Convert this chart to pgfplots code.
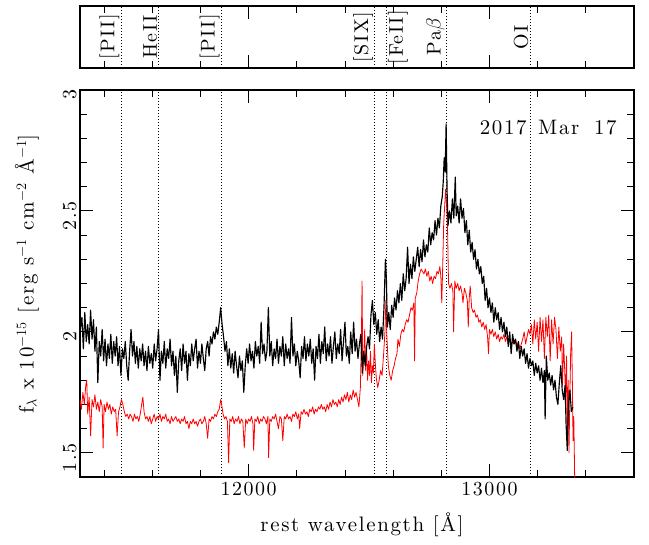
\documentclass[border=0pt]{standalone}
\usepackage{fontspec}
\setmainfont{lmroman10-regular}[Extension=.otf, LetterSpace=8]
\usepackage{pgfplots}
\pgfplotsset{compat=1.18}
\newcommand{\bigf}{\fontsize{20}{24}\selectfont}
\newcommand{\labf}{\fontsize{21}{25}\selectfont}
\begin{document}
\begin{tikzpicture}
\path[use as bounding box] (-80bp,-68bp) rectangle (569bp,477bp);
\pgfplotsset{
  common/.style={
    scale only axis, width=554bp,
    xmin=11300, xmax=13600,
    axis line style={line width=1.2bp},
    tick style={line width=0.9bp, black},
    tick align=inside,
    major tick length=13bp, minor tick length=7bp,
    scaled x ticks=false, scaled y ticks=false,
    xtick={12000,13000},
    minor xtick={11400,11600,11800,12200,12400,12600,12800,13200,13400},
    tick label style={font=\bigf},
    /pgf/number format/assume math mode=true,
  },
  vline/.style={black, line width=0.8bp, dash pattern=on 0.8bp off 2.2bp, forget plot},
}
% ---------- main panel ----------
\begin{axis}[common,
  at={(0,0)}, anchor=south west,
  height=387bp,
  ymin=1.4, ymax=3.0,
  ytick={1.5,2,2.5,3}, yticklabels={1.5,2,2.5,3},
  minor ytick={1.6,1.7,1.8,1.9,2.1,2.2,2.3,2.4,2.6,2.7,2.8,2.9},
  xticklabels={12000,13000},
  xticklabel style={yshift=-2bp},
  yticklabel style={rotate=90, anchor=south, xshift=-5bp},
  xlabel={rest wavelength [Å]},
  xlabel style={font=\labf, at={(axis description cs:0.509,-0.124)}, anchor=center},
  ylabel={f$_\lambda$ x 10$^{-15}$ [erg s$^{-1}$ cm$^{-2}$ Å$^{-1}$]},
  ylabel style={font=\labf, at={(axis description cs:-0.096,0.525)}, anchor=center},
]
\addplot[vline] coordinates {(11470,1.4) (11470,3.0)};
\addplot[vline] coordinates {(11627,1.4) (11627,3.0)};
\addplot[vline] coordinates {(11887,1.4) (11887,3.0)};
\addplot[vline] coordinates {(12524,1.4) (12524,3.0)};
\addplot[vline] coordinates {(12571,1.4) (12571,3.0)};
\addplot[vline] coordinates {(12821,1.4) (12821,3.0)};
\addplot[vline] coordinates {(13168,1.4) (13168,3.0)};
% red spectrum
\addplot[red, line width=0.8bp, line join=round] coordinates {
(11300,1.72) (11306,1.68) (11312,1.75) (11318,1.70) (11324,1.78) (11328,1.80) (11332,1.66) (11338,1.73)
(11344,1.57) (11350,1.72) (11356,1.69) (11362,1.74) (11368,1.68) (11374,1.71) (11380,1.67) (11386,1.72)
(11392,1.69) (11396,1.52) (11400,1.70) (11406,1.67) (11412,1.71) (11418,1.68) (11424,1.70) (11430,1.66)
(11436,1.69) (11442,1.67) (11448,1.68) (11454,1.57) (11460,1.67) (11466,1.69) (11472,1.72) (11478,1.70)
(11484,1.67) (11490,1.65) (11496,1.66) (11502,1.64) (11508,1.66) (11514,1.65) (11520,1.63) (11526,1.66)
(11532,1.64) (11538,1.65) (11544,1.63) (11550,1.66) (11556,1.70) (11561,1.73) (11566,1.67) (11572,1.64)
(11578,1.65) (11584,1.63) (11590,1.65) (11596,1.62) (11602,1.64) (11608,1.66) (11614,1.63) (11620,1.65)
(11626,1.64) (11632,1.66) (11638,1.63) (11644,1.65) (11650,1.64) (11656,1.66) (11662,1.63) (11668,1.64)
(11674,1.62) (11680,1.65) (11686,1.63) (11692,1.64) (11698,1.65) (11704,1.63) (11710,1.64) (11716,1.62)
(11722,1.64) (11728,1.63) (11734,1.65) (11740,1.62) (11746,1.63) (11752,1.60) (11758,1.63) (11764,1.62)
(11770,1.64) (11776,1.62) (11782,1.63) (11788,1.61) (11794,1.63) (11800,1.64) (11806,1.62) (11812,1.63)
(11818,1.65) (11824,1.62) (11830,1.56) (11836,1.64) (11842,1.63) (11848,1.65) (11854,1.64) (11860,1.66)
(11866,1.65) (11872,1.67) (11878,1.68) (11884,1.72) (11888,1.70) (11894,1.66) (11900,1.64) (11906,1.65)
(11912,1.63) (11917,1.46) (11922,1.64) (11928,1.63) (11934,1.65) (11940,1.62) (11946,1.64) (11952,1.63)
(11958,1.65) (11964,1.62) (11970,1.64) (11976,1.63) (11982,1.52) (11988,1.64) (11994,1.62) (12000,1.64)
(12006,1.63) (12012,1.65) (12018,1.62) (12021,1.51) (12026,1.64) (12032,1.63) (12038,1.65) (12044,1.62)
(12050,1.64) (12056,1.63) (12062,1.65) (12068,1.64) (12074,1.62) (12080,1.65) (12083,1.48) (12088,1.64)
(12094,1.63) (12100,1.65) (12106,1.64) (12112,1.66) (12118,1.63) (12124,1.60) (12130,1.65) (12136,1.64)
(12142,1.55) (12148,1.65) (12154,1.64) (12160,1.66) (12166,1.64) (12172,1.65) (12178,1.63) (12184,1.66)
(12190,1.65) (12196,1.67) (12202,1.64) (12208,1.66) (12212,1.60) (12218,1.67) (12224,1.66) (12230,1.68)
(12236,1.66) (12242,1.67) (12248,1.65) (12254,1.68) (12260,1.67) (12266,1.69) (12272,1.66) (12278,1.68)
(12284,1.67) (12290,1.69) (12296,1.68) (12302,1.70) (12308,1.68) (12314,1.69) (12320,1.67) (12326,1.70)
(12332,1.68) (12338,1.71) (12344,1.69) (12350,1.72) (12356,1.70) (12362,1.71) (12368,1.69) (12374,1.72)
(12380,1.70) (12386,1.73) (12392,1.71) (12398,1.74) (12404,1.72) (12410,1.75) (12416,1.71) (12422,1.74)
(12428,1.72) (12434,1.76) (12440,1.73) (12446,1.75) (12452,1.72) (12458,1.69) (12464,1.77) (12468,1.95)
(12471,2.21) (12474,1.82) (12478,1.90) (12482,2.01) (12486,1.84) (12490,1.93) (12494,1.80) (12498,1.88)
(12502,1.82) (12506,1.92) (12510,1.79) (12514,1.86) (12518,1.83) (12522,1.95) (12526,1.87) (12530,1.81)
(12536,1.77) (12542,1.80) (12548,1.84) (12554,1.82) (12560,1.90) (12566,2.00) (12570,2.13) (12574,1.98)
(12580,1.86) (12586,1.82) (12592,1.80) (12598,1.84) (12604,1.86) (12610,1.89) (12616,1.91) (12620,1.97)
(12626,1.94) (12632,1.99) (12638,2.01) (12644,2.00) (12650,2.03) (12656,2.05) (12662,2.04) (12668,2.07)
(12674,2.10) (12680,2.09) (12686,2.12) (12689,1.88) (12692,2.14) (12698,2.16) (12704,2.21) (12710,2.24)
(12716,2.26) (12722,2.25) (12728,2.24) (12734,2.26) (12740,2.23) (12746,2.25) (12752,2.21) (12758,2.23)
(12764,2.20) (12770,2.23) (12776,2.22) (12782,2.25) (12788,2.24) (12794,2.27) (12798,2.23) (12802,2.12)
(12806,2.28) (12810,2.45) (12814,2.52) (12818,2.59) (12822,2.52) (12826,2.42) (12830,2.20) (12836,2.18)
(12842,2.20) (12848,2.17) (12851,2.00) (12856,2.21) (12862,2.18) (12868,2.20) (12874,2.17) (12880,2.19)
(12886,2.16) (12890,2.12) (12896,2.18) (12902,2.16) (12908,2.13) (12912,2.02) (12916,2.14) (12920,2.19)
(12926,2.10) (12932,2.08) (12938,2.09) (12944,2.06) (12950,2.07) (12956,2.04) (12962,2.05) (12968,2.02)
(12974,2.04) (12980,2.01) (12986,2.03) (12992,1.98) (12996,1.91) (13000,2.01) (13006,1.99) (13012,2.01)
(13018,1.98) (13024,2.00) (13030,1.97) (13036,1.99) (13042,1.96) (13048,1.98) (13054,1.97) (13060,1.99)
(13066,1.96) (13072,1.98) (13078,1.95) (13084,1.97) (13090,1.94) (13096,1.96) (13102,1.95) (13108,1.97)
(13114,1.94) (13120,1.96) (13126,1.93) (13132,1.95) (13138,1.97) (13144,2.00) (13150,1.95) (13156,1.98)
(13162,2.01) (13168,1.99) (13174,2.03) (13180,1.95) (13186,2.05) (13192,1.97) (13198,2.04) (13204,1.92)
(13210,2.06) (13216,1.96) (13222,2.05) (13228,1.89) (13234,2.06) (13240,1.98) (13246,2.07) (13252,1.88)
(13258,2.05) (13264,1.95) (13270,2.06) (13276,2.01) (13282,1.89) (13288,2.02) (13294,1.92) (13300,1.98)
(13303,1.78) (13308,1.95) (13312,1.85) (13316,1.73) (13320,1.90) (13323,1.58) (13327,1.80) (13330,1.50)
(13334,1.75) (13337,1.91) (13341,2.00) (13344,1.80) (13347,1.55) (13350,1.65) (13354,1.38)
};
% black spectrum
\addplot[black, line width=1.15bp, line join=round] coordinates {
(11300,2.00) (11308,2.06) (11314,1.93) (11320,2.08) (11326,1.96) (11332,2.03) (11338,1.95) (11344,2.09)
(11350,1.97) (11356,2.05) (11362,1.92) (11368,2.02) (11374,1.79) (11380,1.96) (11386,1.90) (11392,2.01)
(11398,1.88) (11404,1.97) (11410,1.86) (11416,1.95) (11422,1.89) (11428,1.99) (11434,1.87) (11440,1.96)
(11446,1.90) (11452,1.98) (11458,1.86) (11464,1.94) (11470,1.82) (11476,1.93) (11482,1.89) (11488,1.96)
(11494,1.86) (11500,1.80) (11506,1.92) (11512,2.01) (11518,1.90) (11524,1.96) (11530,1.87) (11536,1.94)
(11542,1.85) (11548,1.93) (11554,1.88) (11560,1.95) (11566,1.86) (11572,1.92) (11578,1.84) (11584,1.94)
(11590,1.87) (11596,1.91) (11602,1.85) (11608,1.95) (11614,1.88) (11620,1.93) (11626,2.01) (11632,1.80)
(11638,1.92) (11644,1.87) (11650,1.96) (11656,1.85) (11662,1.93) (11668,1.89) (11674,1.97) (11680,1.86)
(11686,1.92) (11692,1.82) (11698,1.90) (11704,1.75) (11710,1.88) (11716,1.93) (11722,1.84) (11728,1.95)
(11734,1.87) (11740,1.92) (11746,1.80) (11752,1.91) (11758,1.86) (11764,1.95) (11770,1.88) (11776,1.93)
(11782,1.97) (11788,1.85) (11794,1.92) (11800,1.87) (11806,1.95) (11812,1.89) (11818,1.84) (11824,1.93)
(11830,1.96) (11836,1.90) (11842,1.98) (11848,1.95) (11854,2.00) (11860,1.97) (11866,2.02) (11872,1.99)
(11878,2.04) (11884,2.10) (11890,2.03) (11896,1.98) (11902,1.92) (11908,1.96) (11914,1.86) (11920,1.93)
(11926,1.85) (11932,1.91) (11938,1.83) (11944,1.92) (11950,1.86) (11956,1.81) (11962,1.90) (11968,1.84)
(11974,1.88) (11980,1.75) (11986,1.86) (11992,1.93) (11998,1.87) (12004,1.95) (12010,1.88) (12016,1.92)
(12022,1.85) (12028,1.96) (12034,1.90) (12040,1.94) (12046,1.87) (12052,2.04) (12058,1.91) (12064,1.95)
(12070,1.88) (12076,1.92) (12082,2.10) (12088,1.90) (12094,1.96) (12100,1.86) (12106,1.93) (12112,1.89)
(12118,1.97) (12124,1.87) (12130,1.94) (12136,1.90) (12142,1.98) (12148,1.86) (12154,1.95) (12160,1.89)
(12166,1.93) (12172,1.87) (12178,2.06) (12184,1.90) (12190,1.95) (12196,1.86) (12202,1.92) (12208,1.88)
(12214,1.81) (12220,1.94) (12226,1.89) (12232,1.98) (12238,1.88) (12244,1.95) (12250,1.90) (12256,1.97)
(12262,1.87) (12268,1.93) (12274,1.80) (12280,1.94) (12286,1.89) (12292,1.99) (12298,1.87) (12304,1.96)
(12310,1.91) (12316,2.02) (12322,1.88) (12328,1.95) (12334,1.90) (12340,1.98) (12346,1.87) (12352,1.94)
(12358,2.00) (12364,1.89) (12370,1.95) (12376,1.91) (12382,2.01) (12388,1.88) (12394,1.96) (12400,2.04)
(12406,1.90) (12412,1.94) (12418,1.87) (12424,2.00) (12430,1.91) (12436,2.04) (12442,1.92) (12448,1.97)
(12454,1.89) (12460,1.95) (12466,1.99) (12472,1.83) (12478,1.92) (12484,1.86) (12490,1.94) (12496,1.98)
(12502,1.93) (12508,2.07) (12514,2.13) (12520,2.03) (12526,2.08) (12532,1.99) (12538,2.05) (12544,1.96)
(12550,2.02) (12556,1.97) (12562,2.10) (12568,2.30) (12572,2.22) (12576,2.02) (12582,2.08) (12588,2.01)
(12594,2.11) (12600,2.06) (12606,2.14) (12612,2.09) (12618,2.17) (12624,2.12) (12630,2.20) (12636,2.13)
(12642,2.24) (12648,2.17) (12654,2.22) (12660,2.35) (12666,2.20) (12672,2.28) (12678,2.22) (12684,2.31)
(12690,2.25) (12696,2.30) (12702,2.35) (12708,2.27) (12714,2.34) (12720,2.29) (12726,2.38) (12732,2.31)
(12738,2.36) (12744,2.33) (12750,2.43) (12756,2.36) (12762,2.41) (12768,2.38) (12774,2.46) (12780,2.40)
(12786,2.47) (12792,2.43) (12798,2.52) (12804,2.56) (12808,2.62) (12812,2.72) (12816,2.66) (12820,2.86)
(12824,2.58) (12828,2.44) (12834,2.50) (12840,2.45) (12846,2.55) (12852,2.47) (12858,2.64) (12862,2.48)
(12868,2.52) (12874,2.45) (12880,2.55) (12886,2.47) (12892,2.51) (12898,2.41) (12904,2.46) (12910,2.36)
(12916,2.42) (12922,2.33) (12928,2.37) (12934,2.30) (12940,2.34) (12946,2.26) (12952,2.30) (12958,2.24)
(12964,2.27) (12970,2.20) (12976,2.23) (12982,2.13) (12988,2.18) (12994,2.10) (13000,2.14) (13006,2.08)
(13012,2.12) (13018,2.04) (13024,2.10) (13030,2.05) (13036,2.08) (13042,2.01) (13048,2.06) (13054,2.00)
(13060,2.04) (13066,1.98) (13072,2.02) (13078,1.94) (13084,2.00) (13090,1.91) (13096,1.99) (13102,1.95)
(13108,1.97) (13114,1.92) (13120,1.96) (13126,1.89) (13132,1.94) (13138,1.90) (13144,1.93) (13150,1.87)
(13156,1.91) (13162,1.85) (13168,1.89) (13174,1.86) (13180,1.88) (13186,1.82) (13192,1.87) (13198,1.83)
(13204,1.86) (13210,1.80) (13216,1.85) (13222,1.79) (13228,1.84) (13231,1.64) (13236,1.90) (13242,1.80)
(13248,1.83) (13254,1.78) (13260,1.82) (13266,1.76) (13272,1.80) (13278,1.73) (13284,1.70) (13290,1.79)
(13296,1.86) (13302,1.76) (13308,1.72) (13314,1.78) (13318,1.62) (13323,1.51) (13328,1.70) (13334,1.76)
(13340,1.67) (13346,1.69)
};
\node[font=\labf, anchor=base east] at (axis description cs:0.975,0.884) {2017\hspace{0.55em}Mar\hspace{0.7em}17};
\end{axis}
% ---------- top panel ----------
\begin{axis}[common,
  at={(0,409bp)}, anchor=south west,
  height=62bp,
  ymin=0, ymax=1, ytick=\empty,
  xticklabels={},
]
\addplot[vline] coordinates {(11470,0) (11470,1)};
\addplot[vline] coordinates {(11627,0) (11627,1)};
\addplot[vline] coordinates {(11887,0) (11887,1)};
\addplot[vline] coordinates {(12524,0) (12524,1)};
\addplot[vline] coordinates {(12571,0) (12571,1)};
\addplot[vline] coordinates {(12821,0) (12821,1)};
\addplot[vline] coordinates {(13168,0) (13168,1)};
\begin{scope}[every node/.style={font=\bigf, rotate=90, anchor=south, inner sep=1.5bp}]
\node at (axis cs:11470,0.5) {[PII]};
\node at (axis cs:11627,0.5) {HeII};
\node at (axis cs:11887,0.5) {[PII]};
\node at (axis cs:12524,0.5) {[SIX]};
\node[anchor=north] at (axis cs:12571,0.5) {[FeII]};
\node at (axis cs:12821,0.5) {Pa$\beta$};
\node at (axis cs:13168,0.5) {OI};
\end{scope}
\end{axis}
\end{tikzpicture}
\end{document}
